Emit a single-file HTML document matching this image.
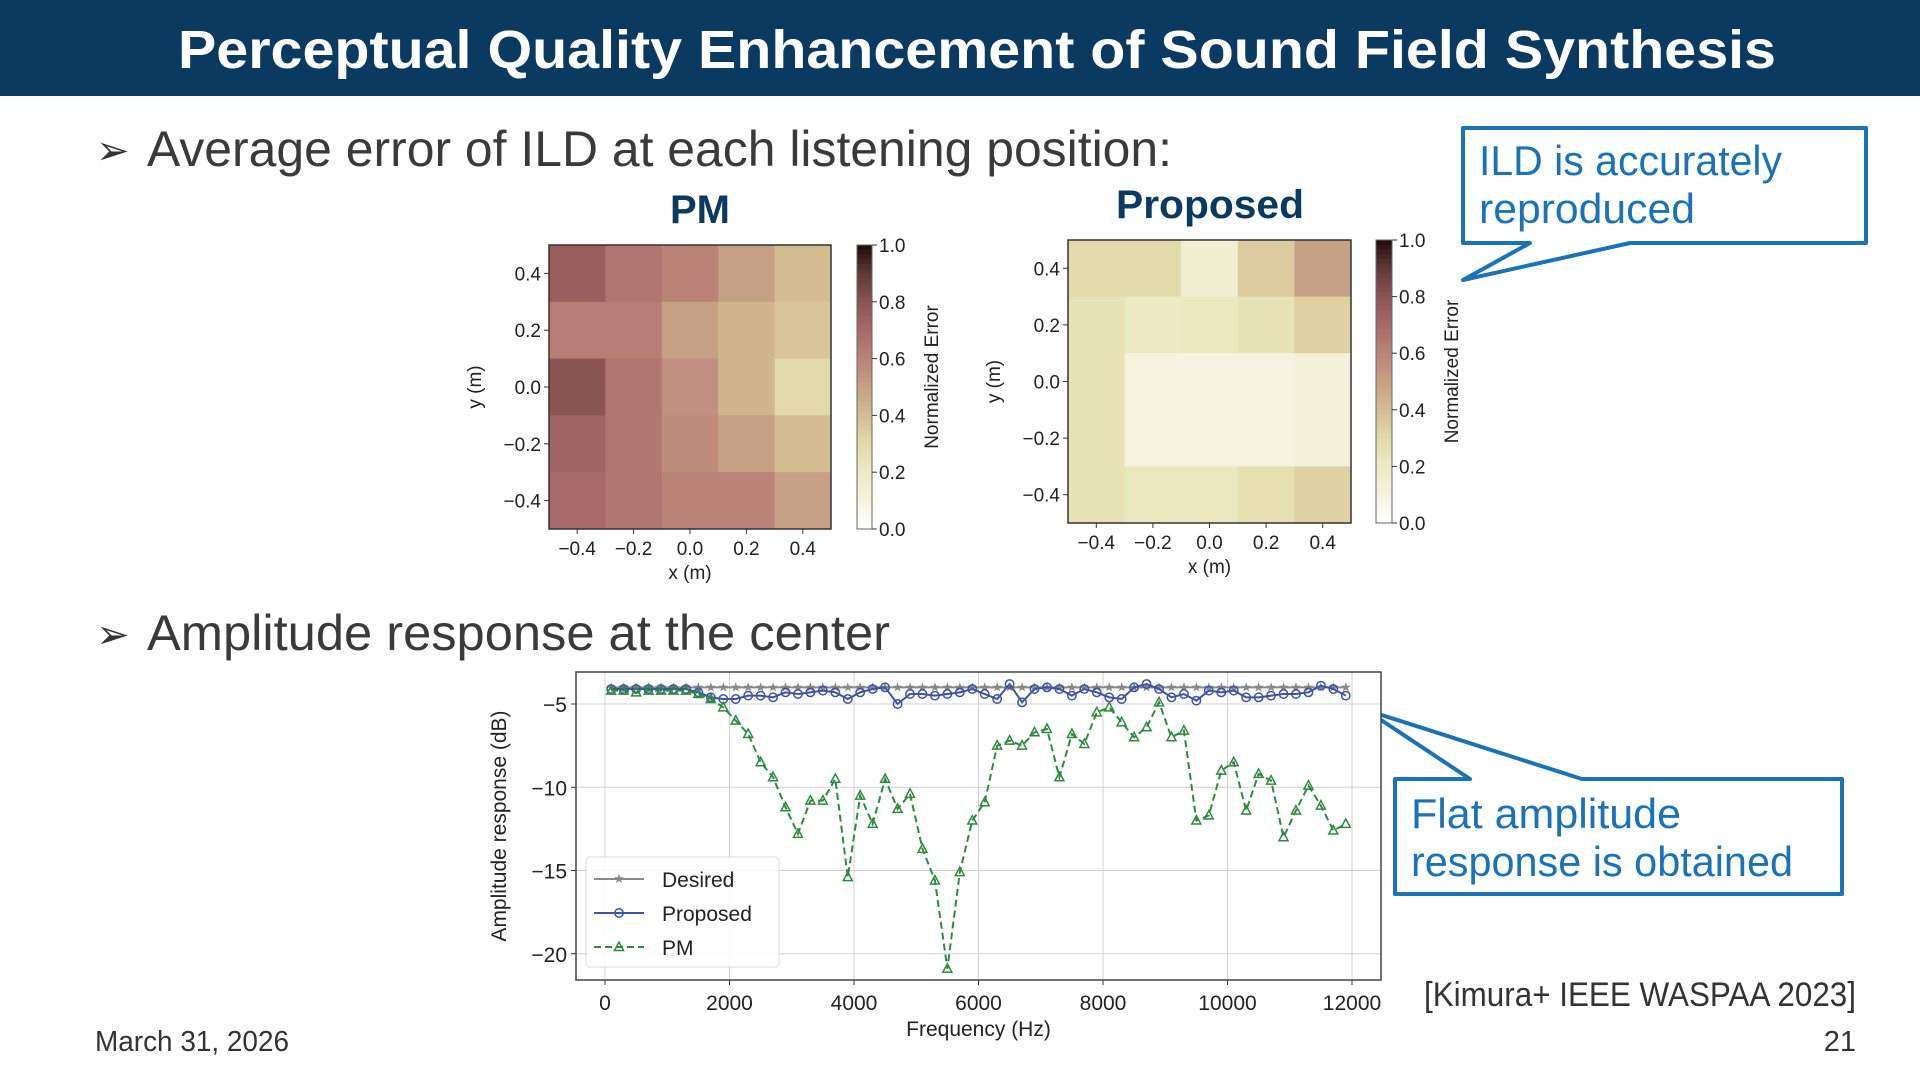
<!DOCTYPE html>
<html><head><meta charset="utf-8">
<style>
html,body{margin:0;padding:0;background:#fff;}
svg{display:block;font-family:"Liberation Sans",sans-serif;}
</style></head>
<body>
<svg id="slide" width="1920" height="1080" viewBox="0 0 1920 1080" xmlns="http://www.w3.org/2000/svg">
<rect x="0" y="0" width="1920" height="96" fill="#0b3a60"/>
<text x="977" y="68" text-anchor="middle" font-size="54" font-weight="bold" fill="#fff" textLength="1598" lengthAdjust="spacingAndGlyphs">Perceptual Quality Enhancement of Sound Field Synthesis</text>

<text x="96" y="164" font-size="40" fill="#333">➢</text>
<text x="147" y="166" font-size="50" fill="#3a3a3a" textLength="1025" lengthAdjust="spacingAndGlyphs">Average error of ILD at each listening position:</text>
<text x="96" y="648" font-size="40" fill="#333">➢</text>
<text x="147" y="650" font-size="50" fill="#3a3a3a" textLength="743" lengthAdjust="spacingAndGlyphs">Amplitude response at the center</text>

<g>
<path d="M1463,128 L1866,128 L1866,243 L1630,243 L1463,280 L1530,243 L1463,243 Z" fill="#fff" stroke="#1a72b8" stroke-width="4" stroke-linejoin="round"/>
<text x="1479" y="175" font-size="42" fill="#1a72b8" textLength="303" lengthAdjust="spacingAndGlyphs">ILD is accurately</text>
<text x="1479" y="223" font-size="42" fill="#1a72b8" textLength="216" lengthAdjust="spacingAndGlyphs">reproduced</text>
</g>
<g>
<path d="M1395,779 L1470,779 L1366,710 L1582,779 L1842,779 L1842,894 L1395,894 Z" fill="#fff" stroke="#1a72b8" stroke-width="4" stroke-linejoin="round"/>
<text x="1411" y="828" font-size="42" fill="#1a72b8" textLength="270" lengthAdjust="spacingAndGlyphs">Flat amplitude</text>
<text x="1411" y="876" font-size="42" fill="#1a72b8" textLength="382" lengthAdjust="spacingAndGlyphs">response is obtained</text>
</g>

<text x="1856" y="1006" text-anchor="end" font-size="34" fill="#333" textLength="432" lengthAdjust="spacingAndGlyphs">[Kimura+ IEEE WASPAA 2023]</text>
<text x="95" y="1051" font-size="29" fill="#333" textLength="194" lengthAdjust="spacingAndGlyphs">March 31, 2026</text>
<text x="1856" y="1051" text-anchor="end" font-size="29" fill="#333">21</text>

<text x="700" y="223" text-anchor="middle" font-size="40" font-weight="bold" fill="#0b3a60">PM</text>
<text x="1210" y="218" text-anchor="middle" font-size="40" font-weight="bold" fill="#0b3a60" textLength="188" lengthAdjust="spacingAndGlyphs">Proposed</text>
<g id="charts"></g>
</svg>
<script>
const NS="http://www.w3.org/2000/svg";
const root=document.getElementById('charts');
function el(tag,attrs,parent,txt){const e=document.createElementNS(NS,tag);for(const k in attrs)e.setAttribute(k,attrs[k]);if(txt!==undefined)e.textContent=txt;(parent||root).appendChild(e);return e;}

// ---- heatmap data ----
const gridX=[-0.4,-0.2,0.0,0.2,0.4];
const gridY=[0.4,0.2,0.0,-0.2,-0.4];
const heatTicks=["-0.4","-0.2","0.0","0.2","0.4"];
const cbarTicks=[0.0,0.2,0.4,0.6,0.8,1.0];
const pmErr=[
 [0.75,0.65,0.60,0.50,0.40],
 [0.62,0.62,0.50,0.42,0.37],
 [0.80,0.65,0.55,0.42,0.30],
 [0.72,0.65,0.57,0.50,0.40],
 [0.70,0.65,0.60,0.60,0.50]];
const propErr=[
 [0.30,0.30,0.15,0.35,0.50],
 [0.25,0.20,0.22,0.25,0.33],
 [0.25,0.10,0.10,0.10,0.12],
 [0.25,0.10,0.10,0.10,0.12],
 [0.25,0.22,0.22,0.27,0.33]];

const cmap=[[0,"#ffffff"],[0.1,"#f5f3df"],[0.2,"#ecebc4"],[0.3,"#e2daaa"],[0.4,"#d3bc92"],[0.5,"#c6a084"],[0.6,"#ba8377"],[0.7,"#a8696a"],[0.8,"#8a5552"],[0.9,"#5f3a38"],[1.0,"#1e0a08"]];
function hex(c){return [1,3,5].map(i=>parseInt(c.substr(i,2),16));}
function colorAt(v){v=Math.max(0,Math.min(1,v));for(let i=0;i<cmap.length-1;i++){const[a,ca]=cmap[i],[b,cb]=cmap[i+1];if(v<=b){const t=(v-a)/(b-a),A=hex(ca),B=hex(cb);return 'rgb('+A.map((x,j)=>Math.round(x+(B[j]-x)*t)).join(',')+')';}}return cmap[cmap.length-1][1];}

function heatmap(name,data,L,R,T,B,cbL,cbR){
 const g=el('g',{});
 
 
 const xs=v=>L+(v+0.5)/1.0*(R-L), ys=v=>T+(0.5-v)/1.0*(B-T);
 const cw=(R-L)/5,ch=(B-T)/5;
 gridY.forEach((yv,i)=>gridX.forEach((xv,j)=>{
  const r=el('rect',{x:xs(xv)-cw/2,y:ys(yv)-ch/2,width:cw+0.5,height:ch+0.5,fill:colorAt(data[i][j])},g);
  
  
 }));
 el('rect',{x:L,y:T,width:R-L,height:B-T,fill:'none',stroke:'#333','stroke-width':1.5},g);
 gridX.forEach((v,i)=>{el('line',{x1:xs(v),x2:xs(v),y1:B,y2:B+5,stroke:'#333'},g);
  const t=el('text',{x:xs(v),y:B+26,'text-anchor':'middle','font-size':19,fill:'#222'},g,heatTicks[i].replace('-','\u2212'));
  });
 gridY.forEach((v,i)=>{el('line',{x1:L-5,x2:L,y1:ys(v),y2:ys(v),stroke:'#333'},g);
  const t=el('text',{x:L-8,y:ys(v)+7,'text-anchor':'end','font-size':19,fill:'#222'},g,heatTicks[4-i].replace('-','\u2212'));
  });
 const xt=el('text',{x:(L+R)/2,y:B+50,'text-anchor':'middle','font-size':19,fill:'#222'},g,'x (m)');
 
 const yt=el('text',{x:0,y:0,'text-anchor':'middle','font-size':19,fill:'#222',transform:`translate(${L-68},${(T+B)/2}) rotate(-90)`},g,'y (m)');
 
 const cb=el('g',{},g);
 
 const n=60;
 for(let k=0;k<n;k++){el('rect',{x:cbL,y:T+(B-T)*k/n,width:cbR-cbL,height:(B-T)/n+0.6,fill:colorAt(1-(k+0.5)/n)},cb);}
 el('rect',{x:cbL,y:T,width:cbR-cbL,height:B-T,fill:'none',stroke:'#666','stroke-width':1},cb);
 cbarTicks.forEach(v=>{const y=B-(B-T)*v;el('line',{x1:cbR,x2:cbR+5,y1:y,y2:y,stroke:'#333'},cb);
  el('text',{x:cbR+7,y:y+7,'font-size':19,fill:'#222'},cb,v.toFixed(1));});
 el('text',{x:0,y:0,'text-anchor':'middle','font-size':19,fill:'#222',transform:`translate(${cbR+66},${(T+B)/2-10}) rotate(-90)`},cb,'Normalized Error');
}
heatmap('pm-heatmap',pmErr,549,831,245,529,857,872);
heatmap('proposed-heatmap',propErr,1068,1351,240,523,1376,1392);

// ---- amplitude response data ----
const freqs=[100,300,500,700,900,1100,1300,1500,1700,1900,2100,2300,2500,2700,2900,3100,3300,3500,3700,3900,4100,4300,4500,4700,4900,5100,5300,5500,5700,5900,6100,6300,6500,6700,6900,7100,7300,7500,7700,7900,8100,8300,8500,8700,8900,9100,9300,9500,9700,9900,10100,10300,10500,10700,10900,11100,11300,11500,11700,11900];
const desiredDb=[-4.0,-4.0,-4.0,-4.0,-4.0,-4.0,-4.0,-4.0,-4.0,-4.0,-4.0,-4.0,-4.0,-4.0,-4.0,-4.0,-4.0,-4.0,-4.0,-4.0,-4.0,-4.0,-4.0,-4.0,-4.0,-4.0,-4.0,-4.0,-4.0,-4.0,-4.0,-4.0,-4.0,-4.0,-4.0,-4.0,-4.0,-4.0,-4.0,-4.0,-4.0,-4.0,-4.0,-4.0,-4.0,-4.0,-4.0,-4.0,-4.0,-4.0,-4.0,-4.0,-4.0,-4.0,-4.0,-4.0,-4.0,-4.0,-4.0,-4.0];
const proposedDb=[-4.1,-4.1,-4.1,-4.1,-4.1,-4.1,-4.1,-4.3,-4.6,-4.7,-4.7,-4.5,-4.5,-4.6,-4.3,-4.4,-4.3,-4.2,-4.3,-4.7,-4.3,-4.1,-4.0,-5.0,-4.4,-4.4,-4.5,-4.4,-4.3,-4.1,-4.4,-4.7,-3.8,-4.9,-4.1,-4.0,-4.1,-4.5,-4.1,-4.3,-4.6,-4.7,-4.0,-3.8,-4.1,-4.6,-4.4,-4.8,-4.2,-4.3,-4.2,-4.6,-4.6,-4.5,-4.4,-4.4,-4.3,-3.9,-4.1,-4.5];
const pmDb=[-4.2,-4.2,-4.3,-4.2,-4.2,-4.2,-4.2,-4.4,-4.7,-5.2,-6.0,-6.8,-8.5,-9.4,-11.2,-12.8,-10.8,-10.8,-9.5,-15.4,-10.5,-12.2,-9.5,-11.3,-10.4,-13.7,-15.6,-20.9,-15.1,-12.0,-10.9,-7.5,-7.2,-7.5,-6.7,-6.5,-9.4,-6.8,-7.4,-5.5,-5.2,-6.1,-7.0,-6.4,-4.9,-7.0,-6.6,-12.0,-11.7,-9.0,-8.5,-11.4,-9.2,-9.6,-13.0,-11.4,-9.9,-11.1,-12.6,-12.2];
const xTicks=[0,2000,4000,6000,8000,10000,12000];
const yTicks=[-5,-10,-15,-20];

const AL=576,AR=1381,AT=672,AB=980;
const fx=f=>605+(f/12000)*(1352-605);
const fy=d=>704+(-5-d)*16.65;
const lc=el('g',{});


el('rect',{x:AL,y:AT,width:AR-AL,height:AB-AT,fill:'#fff'},lc);
xTicks.forEach(v=>{el('line',{x1:fx(v),x2:fx(v),y1:AT,y2:AB,stroke:'#d0d0d0','stroke-width':1},lc);
 el('line',{x1:fx(v),x2:fx(v),y1:AB,y2:AB+5,stroke:'#333'},lc);
 const t=el('text',{x:fx(v),y:AB+30,'text-anchor':'middle','font-size':21,fill:'#222'},lc,String(v));
 });
yTicks.forEach(v=>{el('line',{x1:AL,x2:AR,y1:fy(v),y2:fy(v),stroke:'#d0d0d0','stroke-width':1},lc);
 el('line',{x1:AL-5,x2:AL,y1:fy(v),y2:fy(v),stroke:'#333'},lc);
 const t=el('text',{x:AL-9,y:fy(v)+8,'text-anchor':'end','font-size':21,fill:'#222'},lc,'\u2212'+Math.abs(v));
 });
el('rect',{x:AL,y:AT,width:AR-AL,height:AB-AT,fill:'none',stroke:'#444','stroke-width':1.5},lc);
const xat=el('text',{x:(AL+AR)/2,y:AB+56,'text-anchor':'middle','font-size':21,fill:'#222'},lc,'Frequency (Hz)');

const yat=el('text',{x:0,y:0,'text-anchor':'middle','font-size':21,fill:'#222',transform:`translate(${AL-70},${(AT+AB)/2}) rotate(-90)`},lc,'Amplitude response (dB)');


function marker(type,x,y,color,g){
 if(type==='star') el('text',{x:x,y:y+4,'text-anchor':'middle','font-size':13,fill:color},g,'\u2605');
 else if(type==='circle') el('circle',{cx:x,cy:y,r:4.2,fill:'none',stroke:color,'stroke-width':1.5},g);
 else el('path',{d:`M${x},${y-5} L${x+4.5},${y+3.5} L${x-4.5},${y+3.5} Z`,fill:'none',stroke:color,'stroke-width':1.5},g);
}
function series(name,vals,color,dash,mk){
 const g=el('g',{},lc);
 
 
 const pts=freqs.map((f,i)=>fx(f)+','+fy(vals[i])).join(' ');
 el('polyline',{points:pts,fill:'none',stroke:color,'stroke-width':2,'stroke-dasharray':dash||'none'},g);
 freqs.forEach((f,i)=>marker(mk,fx(f),fy(vals[i]),color,g));
}
series('series-desired',desiredDb,'#888888',null,'star');
series('series-proposed',proposedDb,'#3b54a4',null,'circle');
series('series-pm',pmDb,'#2e8b3e','7,4','tri');

const lg=el('g',{},lc);


el('rect',{x:586,y:857,width:193,height:110,rx:4,fill:'#fff',stroke:'#ddd','fill-opacity':0.85},lg);
[['Desired','#888888',null,'star'],['Proposed','#3b54a4',null,'circle'],['PM','#2e8b3e','7,4','tri']].forEach((e,i)=>{
 const y=879+i*34;
 const le=el('g',{},lg);
 
 
 el('line',{x1:594,x2:644,y1:y,y2:y,stroke:e[1],'stroke-width':2,'stroke-dasharray':e[2]||'none'},le);
 marker(e[3],619,y,e[1],le);
 el('text',{x:662,y:y+8,'font-size':21,fill:'#222'},le,e[0]);
});
</script>
</body></html>
